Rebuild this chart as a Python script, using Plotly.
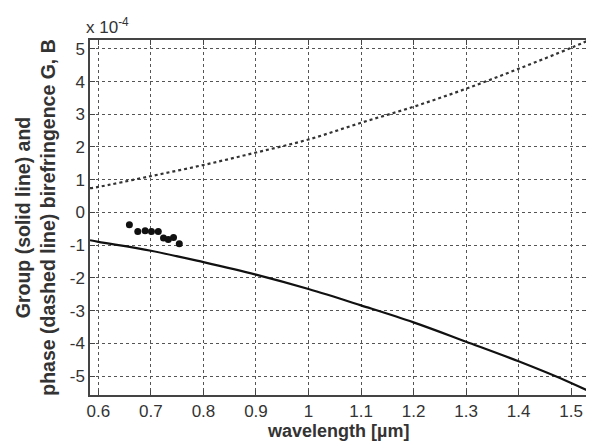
import plotly.graph_objects as go

# wavelength in micrometres
wl = [0.584, 0.6, 0.7, 0.8, 0.9, 1.0, 1.1, 1.2, 1.3, 1.4, 1.5, 1.536]
# group birefringence G (x 1e-4), solid line
G = [-0.85, -0.9, -1.17, -1.52, -1.9, -2.34, -2.84, -3.36, -3.95, -4.55, -5.21, -5.48]
# phase birefringence B (x 1e-4), dashed line
B = [0.74, 0.78, 1.11, 1.45, 1.83, 2.23, 2.74, 3.23, 3.78, 4.39, 5.03, 5.28]
# measured points
meas_wl = [0.659, 0.675, 0.689, 0.701, 0.714, 0.724, 0.733, 0.743, 0.754]
meas_G = [-0.38, -0.58, -0.56, -0.58, -0.58, -0.78, -0.83, -0.77, -0.96]

x_ticks = [0.6, 0.7, 0.8, 0.9, 1.0, 1.1, 1.2, 1.3, 1.4, 1.5]
x_ticktext = ["0.6", "0.7", "0.8", "0.9", "1", "1.1", "1.2", "1.3", "1.4", "1.5"]
y_ticks = [5, 4, 3, 2, 1, 0, -1, -2, -3, -4, -5]
y_ticktext = ["5", "4", "3", "2", "1", "0", "-1", "-2", "-3", "-4", "-5"]

fig = go.Figure()
fig.add_trace(go.Scatter(x=wl, y=B, mode="lines", line=dict(color="#333", width=2.2, dash="dot", shape="spline"), showlegend=False))
fig.add_trace(go.Scatter(x=wl, y=G, mode="lines", line=dict(color="#111", width=2.2, shape="spline"), showlegend=False))
fig.add_trace(go.Scatter(x=meas_wl, y=meas_G, mode="markers", marker=dict(color="#111", size=7), showlegend=False))

font = "Liberation Sans, Arial, sans-serif"
axis_common = dict(
    showline=True, linecolor="#444", linewidth=1.5, mirror="allticks",
    ticks="inside", ticklen=5, tickcolor="#444",
    showgrid=True, gridcolor="#555", griddash="dot", gridwidth=1,
    zeroline=False, automargin=False, tickfont=dict(family=font, size=17, color="#333"),
)
fig.update_xaxes(range=[0.584, 1.536], tickvals=x_ticks, ticktext=x_ticktext, **axis_common)
fig.update_yaxes(range=[-5.58, 5.27], tickvals=y_ticks, ticktext=y_ticktext,
                 title=dict(text="<b>Group (solid line) and<br>phase (dashed line) birefringence G, B</b>",
                            font=dict(family=font, size=19.5, color="#333"), standoff=9),
                 **axis_common)
fig.add_annotation(x=0.496, y=0, xref="paper", yref="paper", xanchor="center", yanchor="middle",
                   text="<b>wavelength [µm]</b>", showarrow=False, yshift=-36,
                   font=dict(family=font, size=18, color="#333"))
fig.add_annotation(x=0, y=1, xref="paper", yref="paper", xanchor="left", yanchor="bottom",
                   text="x 10<sup>-4</sup>", showarrow=False, yshift=1, xshift=-6,
                   font=dict(family=font, size=17, color="#333"))
# the page body adds an 8px offset, so the figure is sized to fit the window
fig.update_layout(width=586, height=436, margin=dict(l=82, r=4, t=32, b=49),
                  plot_bgcolor="white", paper_bgcolor="white")
fig.write_html("out.html")
